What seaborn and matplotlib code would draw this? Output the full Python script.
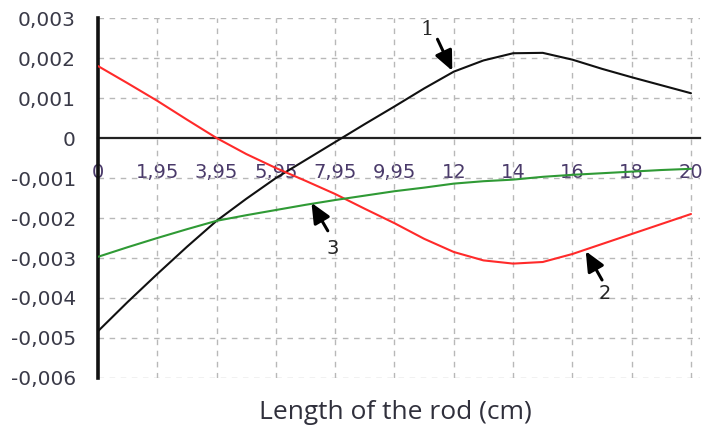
import numpy as np
import pandas as pd
import matplotlib
matplotlib.use("Agg")
import matplotlib.pyplot as plt
import seaborn as sns

# Positions along the rod (one step = half a labelled division)
x_pos = [0, 1, 2, 3, 4, 5, 6, 7, 8, 9, 10, 11, 12, 13, 14, 15, 16, 17, 18, 19, 20]
tick_pos = [0, 2, 4, 6, 8, 10, 12, 14, 16, 18, 20]
tick_labels = ["0", "1,95", "3,95", "5,95", "7,95", "9,95", "12", "14", "16", "18", "20"]

curve_1 = [-0.00483, -0.00410, -0.00340, -0.00272, -0.00207, -0.00152, -0.00100, -0.00055,
           -0.00010, 0.00035, 0.00079, 0.00124, 0.00166, 0.00194, 0.00212, 0.00213,
           0.00196, 0.00173, 0.00152, 0.00132, 0.00112]
curve_2 = [0.00180, 0.00137, 0.00093, 0.00046, 0.00000, -0.00040, -0.00075, -0.00107,
           -0.00140, -0.00177, -0.00213, -0.00252, -0.00285, -0.00306, -0.00314, -0.00310,
           -0.00290, -0.00265, -0.00240, -0.00215, -0.00190]
curve_3 = [-0.00297, -0.00273, -0.00250, -0.00228, -0.00207, -0.00193, -0.00180, -0.00167,
           -0.00155, -0.00144, -0.00133, -0.00124, -0.00114, -0.00108, -0.00104, -0.00097,
           -0.00092, -0.00088, -0.00084, -0.00080, -0.00077]

y_ticks = [0.003, 0.002, 0.001, 0.0, -0.001, -0.002, -0.003, -0.004, -0.005, -0.006]
y_tick_labels = ["0,003", "0,002", "0,001", "0", "-0,001", "-0,002", "-0,003",
                 "-0,004", "-0,005", "-0,006"]

df = pd.DataFrame({
    "x": x_pos * 3,
    "value": curve_1 + curve_2 + curve_3,
    "curve": ["1"] * len(x_pos) + ["2"] * len(x_pos) + ["3"] * len(x_pos),
})

sns.set_theme(style="white")
plt.rcParams["font.family"] = ["DejaVu Sans"]

fig = plt.figure(figsize=(7.02, 4.30), dpi=100)
ax = fig.add_axes([0.1396, 0.121, 0.8574, 0.837])

palette = {"1": "#111111", "2": "#ff2a2a", "3": "#2f9a35"}
sns.lineplot(data=df, x="x", y="value", hue="curve", palette=palette,
             linewidth=1.5, legend=False, ax=ax, zorder=3)

ax.set_xlim(0, 20.3)
ax.set_ylim(-0.006, 0.003)

# dashed grid at every division
for t in tick_pos[1:]:
    ax.plot([t, t], [-0.006, 0.003], ls=(0, (4, 4)), color="#b8b8b8", lw=1.0, zorder=1)
for v in y_ticks:
    if v != 0.0:
        ax.plot([0, 20.3], [v, v], ls=(0, (4, 4)), color="#b8b8b8", lw=1.0, zorder=1)

ax.set_xticks(tick_pos)
ax.set_xticklabels(tick_labels)
ax.set_yticks(y_ticks)
ax.set_yticklabels(y_tick_labels)

ax.tick_params(axis="x", direction="out", length=8, width=1.5, color="#111111",
               pad=10, labelsize=14, labelcolor="#4a3a6a")
ax.tick_params(axis="y", direction="out", length=9, width=2, color="#111111",
               pad=7, labelsize=14.5, labelcolor="#3a3a48")

for side in ["top", "right"]:
    ax.spines[side].set_visible(False)
ax.spines["left"].set_linewidth(2.6)
ax.spines["left"].set_color("#111111")
ax.spines["bottom"].set_position(("data", 0))
ax.spines["bottom"].set_linewidth(1.6)
ax.spines["bottom"].set_color("#222222")
ax.spines["bottom"].set_zorder(2)
ax.set_xlabel("")
ax.set_ylabel("")

arrow = dict(arrowstyle="-|>,head_length=1.0,head_width=0.45", color="black", lw=2.2,
             shrinkA=0, shrinkB=0)
ax.annotate("", xy=(11.95, 0.00168), xytext=(11.45, 0.00247), arrowprops=arrow)
ax.text(11.1, 0.00272, "1", fontsize=15, family="DejaVu Serif", ha="center", va="center")
ax.annotate("", xy=(16.45, -0.00283), xytext=(17.0, -0.00355), arrowprops=arrow)
ax.text(17.1, -0.0039, "2", fontsize=14, ha="center", va="center")
ax.annotate("", xy=(7.2, -0.00162), xytext=(7.75, -0.00232), arrowprops=arrow)
ax.text(7.9, -0.00275, "3", fontsize=14, ha="center", va="center")

fig.text(0.563, 0.04, "Length of the rod (cm)", ha="center", va="center",
         fontsize=19, family="Open Sans", color="#30303c")

fig.savefig("out.png", dpi=100)
